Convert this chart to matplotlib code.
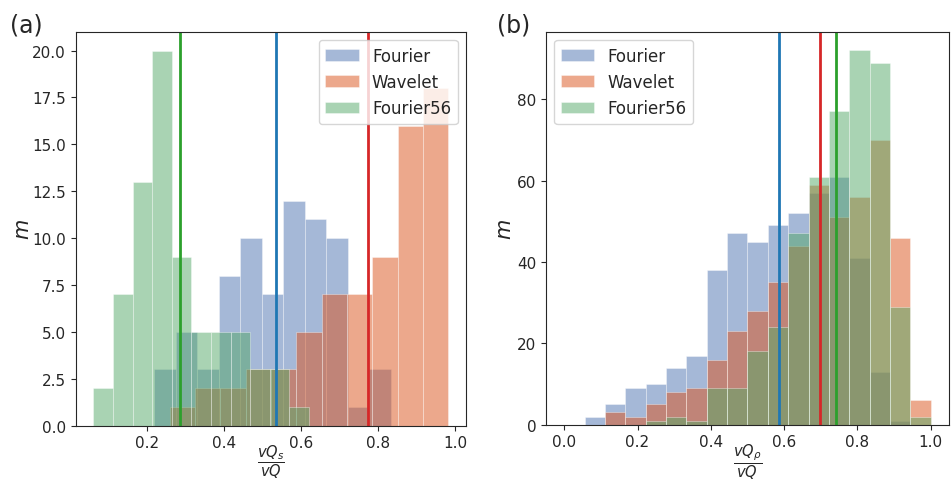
import numpy as np
import matplotlib
matplotlib.use("Agg")
import matplotlib.pyplot as plt

series = ["Fourier", "Wavelet", "Fourier56"]
hist_colors = ["#4c72b0", "#db521b", "#55a868"]
mean_colors = ["#1f77b4", "#d62728", "#2ca02c"]

# panel (a): each series binned over its own range, 11 bins
a_ranges = [(0.219, 0.834), (0.260, 0.9825), (0.0617, 0.621)]
a_fourier = [3, 5, 3, 8, 10, 7, 12, 11, 10, 1, 3]
a_wavelet = [1, 2, 2, 3, 3, 5, 7, 7, 9, 16, 18]
a_fourier56 = [2, 7, 13, 20, 9, 5, 5, 5, 3, 3, 1]
a_means = [0.536, 0.775, 0.286]

# panel (b): shared 18 bins on [0, 1]
b_range = (0.0, 1.0)
b_fourier = [0, 2, 5, 9, 10, 14, 17, 38, 47, 45, 49, 52, 57, 61, 41, 13, 1, 0]
b_wavelet = [0, 0, 3, 2, 5, 8, 9, 16, 23, 28, 35, 44, 59, 51, 56, 70, 46, 6]
b_fourier56 = [0, 0, 0, 0, 1, 2, 1, 9, 9, 18, 24, 47, 61, 77, 92, 89, 29, 2]
b_means = [0.585, 0.697, 0.743]

plt.rcParams.update({
    "font.family": ["DejaVu Sans"],
    "axes.edgecolor": ".15",
    "xtick.color": ".15",
    "ytick.color": ".15",
    "text.color": ".15",
    "axes.labelcolor": ".15",
    "xtick.labelsize": 11,
    "ytick.labelsize": 11,
    "legend.fontsize": 12,
    "legend.edgecolor": "0.8",
})

fig = plt.figure(figsize=(9.52, 4.81), dpi=100)
ax_a = fig.add_axes([0.0795, 0.1129, 0.410, 0.819])
ax_b = fig.add_axes([0.5735, 0.1150, 0.4233, 0.817])


def draw_hist(ax, edges, counts, color, label):
    edges = np.asarray(edges)
    ax.hist(edges[:-1], bins=edges, weights=counts, color=color, alpha=0.5,
            label=label, edgecolor="white", linewidth=0.5)


a_counts = [a_fourier, a_wavelet, a_fourier56]
for (lo, hi), counts, col, name in zip(a_ranges, a_counts, hist_colors, series):
    draw_hist(ax_a, np.linspace(lo, hi, len(counts) + 1), counts, col, name)
for m, col in zip(a_means, mean_colors):
    ax_a.axvline(m, color=col, lw=2)

b_counts = [b_fourier, b_wavelet, b_fourier56]
for counts, col, name in zip(b_counts, hist_colors, series):
    draw_hist(ax_b, np.linspace(b_range[0], b_range[1], len(counts) + 1), counts, col, name)
for m, col in zip(b_means, mean_colors):
    ax_b.axvline(m, color=col, lw=2)

ax_a.legend(loc="upper right")
ax_b.legend(loc="upper left")

ax_a.set_xlabel(r"$\dfrac{vQ_s}{vQ}$", fontsize=10.5)
ax_b.set_xlabel(r"$\dfrac{vQ_\rho}{vQ}$", fontsize=10.5)
ax_a.xaxis.set_label_coords(0.5, -0.043)
ax_b.xaxis.set_label_coords(0.5, -0.043)
for ax in (ax_a, ax_b):
    ax.set_ylabel(r"$m$", fontsize=15)
ax_a.yaxis.set_label_coords(-0.109, 0.5)
ax_b.yaxis.set_label_coords(-0.077, 0.5)

fig.text(0.010, 0.932, "(a)", fontsize=17)
fig.text(0.522, 0.932, "(b)", fontsize=17)

fig.savefig("out.png", dpi=100)
